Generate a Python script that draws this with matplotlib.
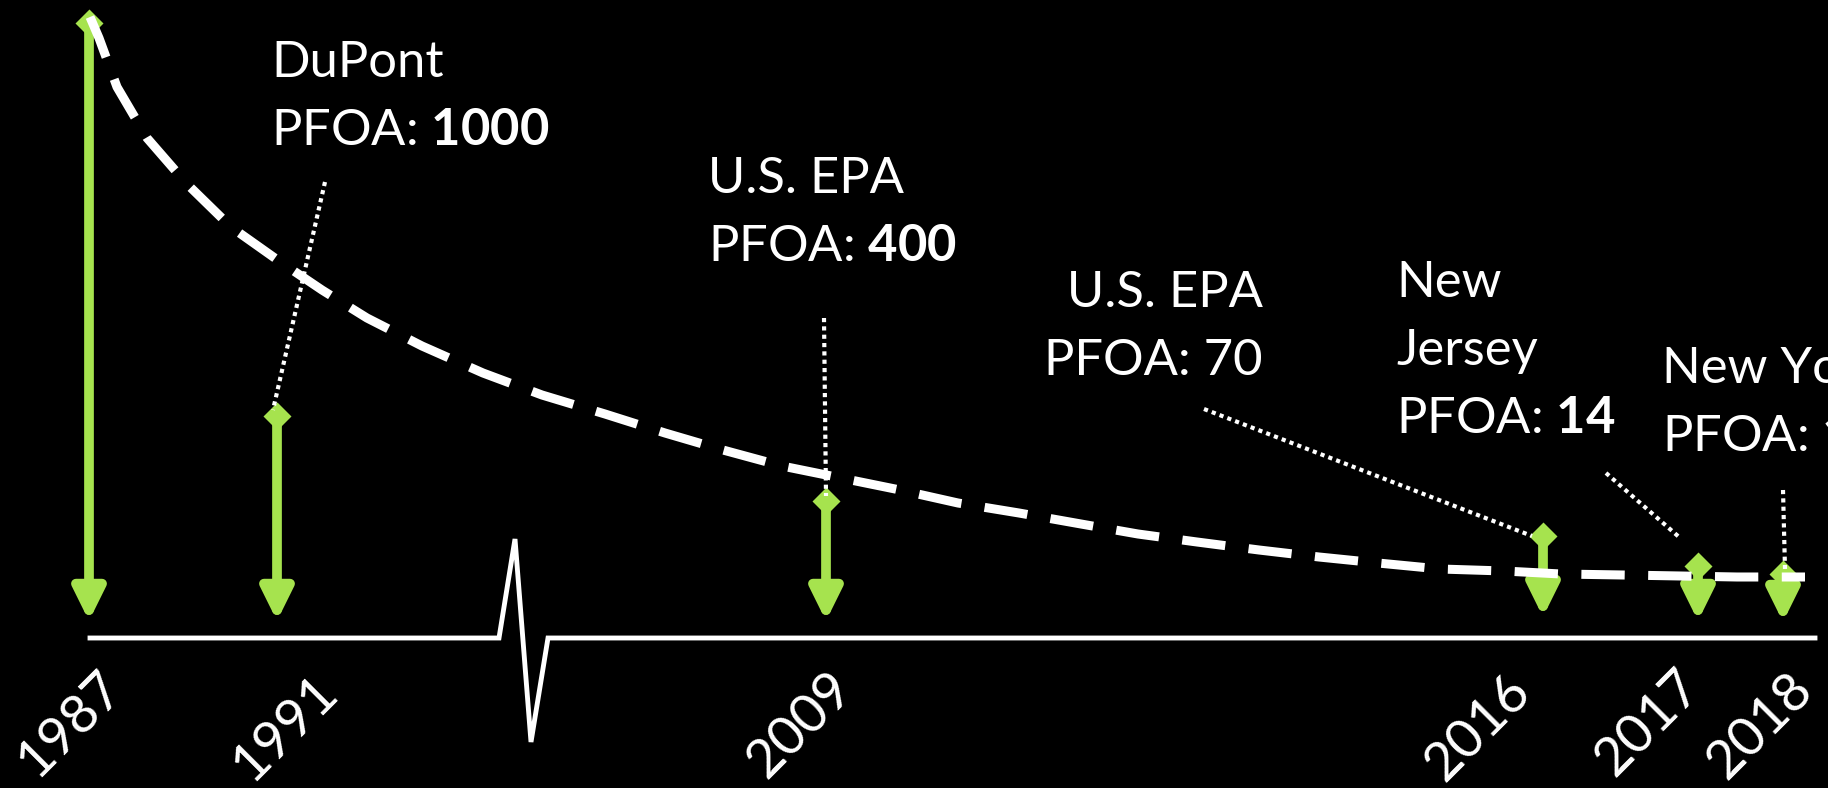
import matplotlib
matplotlib.use("Agg")
import matplotlib.pyplot as plt

plt.rcParams['font.family'] = ['Lato', 'DejaVu Sans']
plt.rcParams['mathtext.fontset'] = 'custom'
plt.rcParams['mathtext.rm'] = 'Lato'
plt.rcParams['mathtext.bf'] = 'Lato:bold'

GREEN = '#A6E34E'

# timeline: years, their position along the (broken) axis, arrow top level
years = ['1987', '1991', '2009', '2016', '2017', '2018']
year_pos = [89, 277, 826, 1543, 1698, 1783]
arrow_top = [615, 222, 137, 102, 72, 64]
arrow_tip = [17, 17, 17, 21, 17, 16]
label_pos = [70, 285, 800, 1478, 1648, 1760]
label_level = [-86, -90, -87, -90, -85, -88]

# dashed trend curve
curve_x = [90, 99, 117, 147, 187, 231, 279, 322, 367, 422, 483, 542, 605, 665,
           723, 782, 841, 900, 958, 1019, 1081, 1138, 1197, 1259, 1319, 1378,
           1440, 1504, 1561, 1623, 1681, 1737, 1805]
curve_y = [621, 600, 551, 500, 454, 411, 377, 348, 320, 292, 265, 243, 224, 205,
           188, 172, 160, 148, 135, 125, 114, 104, 96, 88, 81, 75, 69, 67, 64,
           63, 62, 61, 61]

# baseline with the axis break
axis_x = [90, 499, 515, 531, 548, 1815]
axis_y = [0, 0, 99, -104, 0, 0]

# regulator call-outs
who = ['DuPont', 'U.S. EPA', 'U.S. EPA', 'New\nJersey', 'New York']
limits = ['1000', '400', '70', '14', '10']
limit_bold = [True, True, False, True, True]
text_x = [271, 708, 1263, 1396, 1662]
text_level = [561, 445, 331, 341, 255]
text_ha = ['left', 'left', 'right', 'left', 'left']
# dotted leader lines (start, end)
lead_x0 = [325, 824, 1204, 1606, 1783]
lead_y0 = [456, 320, 229, 165, 148]
lead_x1 = [273, 826, 1532, 1679, 1785]
lead_y1 = [228, 142, 102, 101, 69]

LINE_GAP = 68
FS = 36.5

fig = plt.figure(figsize=(18.28, 7.88), dpi=100, facecolor='black')
ax = fig.add_axes([0, 0, 1, 1])
ax.set_facecolor('black')
ax.set_xlim(0, 1828)
ax.set_ylim(-150, 638)
ax.axis('off')

ax.plot(axis_x, axis_y, color='white', lw=3.5, solid_joinstyle='miter')

for x, top, tip in zip(year_pos, arrow_top, arrow_tip):
    ax.annotate('', xy=(x, tip), xytext=(x, top),
                arrowprops=dict(arrowstyle='-|>,head_length=0.95,head_width=0.47',
                                color=GREEN, lw=7, shrinkA=0, shrinkB=0,
                                mutation_scale=20))
    ax.plot([x], [top], marker='D', ms=14.5, color=GREEN, mec='none')

ax.plot(curve_x, curve_y, color='white', lw=6.5, dashes=(4.8, 2.6),
        solid_capstyle='butt', dash_capstyle='butt', zorder=5)

for x0, y0, x1, y1 in zip(lead_x0, lead_y0, lead_x1, lead_y1):
    ax.plot([x0, x1], [y0, y1], color='white', lw=3, linestyle=(0, (1, 1)),
            zorder=6)

for name, lim, bold, x, lvl, ha in zip(who, limits, limit_bold, text_x,
                                         text_level, text_ha):
    lines = name.split('\n')
    lines.append('PFOA: ' + (r'$\mathbf{%s}$' % lim if bold else lim))
    for i, line in enumerate(lines):
        ax.text(x, lvl - i * LINE_GAP, line, color='white', fontsize=FS,
                ha=ha, va='baseline')

for yr, x, lvl in zip(years, label_pos, label_level):
    ax.text(x, lvl, yr, color='white', fontsize=39, rotation=45,
            rotation_mode='anchor', ha='center', va='center')

fig.savefig('out.png', dpi=100, facecolor='black')
